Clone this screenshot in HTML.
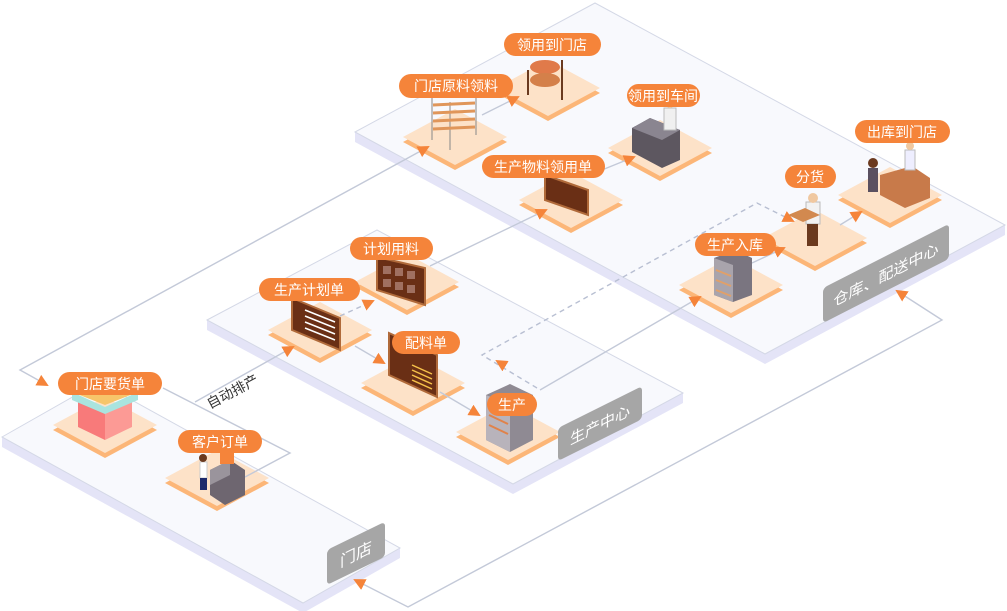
<!DOCTYPE html>
<html><head><meta charset="utf-8"><style>
html,body{margin:0;padding:0;background:#fff;width:1007px;height:611px;overflow:hidden}
svg{display:block;font-family:"Liberation Sans","Noto Sans CJK SC",sans-serif}
.lb{fill:#fff;font-size:14px;text-anchor:middle}
</style></head><body>
<svg width="1007" height="611" viewBox="0 0 1007 611" xmlns="http://www.w3.org/2000/svg">
<defs>
<marker id="a" markerUnits="userSpaceOnUse" markerWidth="12" markerHeight="12" refX="10" refY="6" orient="auto-start-reverse"><path d="M0,0 L12,6 L0,12 z" fill="#f5843a"/></marker>
<g id="pad"><polygon points="-52,5 0,-23 52,5 0,33" fill="#fcb678"/><polygon points="-52,0 0,-28 52,0 0,28" fill="#fde2c8"/></g>
</defs>
<g stroke="#d4d8e6" stroke-width="1">
<polygon points="2,437 2,447 303,613 400,558 400,548 303,603" fill="#e4e4f7" stroke="none"/>
<polygon points="2,437 99,382 400,548 303,603" fill="#f8f9fd"/>
<polygon points="207,320 207,330 513,494 683,403 683,393 513,484" fill="#e4e4f7" stroke="none"/>
<polygon points="207,320 377,230 683,393 513,484" fill="#f8f9fd"/>
<polygon points="355,132 355,142 765,364 1005,235 1005,225 765,354" fill="#e4e4f7" stroke="none"/>
<polygon points="355,132 595,3 1005,225 765,354" fill="#f8f9fd"/>
</g>
<use href="#pad" x="105" y="425"/><use href="#pad" x="217" y="478"/>
<use href="#pad" x="320" y="330"/><use href="#pad" x="407" y="282"/>
<use href="#pad" x="413" y="383"/><use href="#pad" x="508" y="432"/>
<use href="#pad" x="455" y="137"/><use href="#pad" x="548" y="88"/>
<use href="#pad" x="660" y="148"/><use href="#pad" x="571" y="200"/>
<use href="#pad" x="731" y="285"/><use href="#pad" x="815" y="238"/>
<use href="#pad" x="890" y="195"/>
<g fill="none" stroke="#c3c9d8" stroke-width="1.4">
<polyline points="428,147 20,370 47,385" marker-start="url(#a)" marker-end="url(#a)"/>
<polyline points="163,388 290,453 245,477"/>
<line x1="195" y1="402" x2="293" y2="347" marker-end="url(#a)"/>
<line x1="355" y1="346" x2="384" y2="363" marker-end="url(#a)"/>
<line x1="440" y1="392" x2="479" y2="415" marker-end="url(#a)"/>
<line x1="430" y1="266" x2="546" y2="210" marker-end="url(#a)"/>
<line x1="482" y1="115" x2="518" y2="97" marker-end="url(#a)"/>
<line x1="592" y1="174" x2="634" y2="157" marker-end="url(#a)"/>
<line x1="540" y1="390" x2="700" y2="297" marker-end="url(#a)"/>
<line x1="752" y1="263" x2="784" y2="248" marker-end="url(#a)"/>
<line x1="840" y1="225" x2="861" y2="212" marker-end="url(#a)"/>
<polyline points="897,291 942,320 408,607 355,580" marker-start="url(#a)" marker-end="url(#a)"/>
<g stroke-dasharray="5,4" stroke="#b8bfd2">
<polyline points="340,316 373,301" marker-end="url(#a)"/>
<polyline points="537,388 482,355 757,203 793,221" marker-end="url(#a)"/>
<line x1="520" y1="375" x2="497" y2="361" marker-end="url(#a)" stroke="none"/>
</g>
</g>
<text x="0" y="0" font-size="14" fill="#333" transform="translate(210,409) rotate(-28)">自动排产</text>
<polygon points="78,395 105,408 105,440 78,427" fill="#f87a7a"/><polygon points="105,408 132,395 132,427 105,440" fill="#fc9a95"/>
<polygon points="72,392 105,405 138,392 105,380" fill="#f7c56a"/><path d="M72,392 L105,407 L138,392 L138,400 L105,414 L72,400z" fill="#a9e4df"/>
<circle cx="105" cy="388" r="6" fill="#f08585"/>
<polygon points="210,470 230,460 245,470 245,495 225,505 210,495" fill="#6e6670"/><polygon points="210,470 230,460 230,475 210,485" fill="#9a949c"/>
<rect x="220" y="450" width="14" height="14" fill="#f5843a"/>
<rect x="200" y="462" width="7" height="16" fill="#fff" stroke="#ccc"/><rect x="200" y="478" width="7" height="12" fill="#1d2a6b"/><circle cx="203" cy="458" r="4" fill="#6b3a1f"/>
<polygon points="292,298 340,318 340,350 292,330" fill="#6a2f15" stroke="#b06a3a" stroke-width="2"/>
<g stroke="#fff" stroke-width="1.5"><line x1="305" y1="310" x2="335" y2="322"/><line x1="305" y1="316" x2="335" y2="328"/><line x1="305" y1="322" x2="335" y2="334"/><line x1="305" y1="328" x2="335" y2="340"/></g>
<polygon points="377,257 425,268 425,305 377,290" fill="#6a2f15" stroke="#b06a3a" stroke-width="2"/>
<g fill="#a07060"><rect x="383" y="266" width="8" height="8"/><rect x="395" y="268" width="8" height="8"/><rect x="407" y="271" width="8" height="8"/><rect x="383" y="279" width="8" height="8"/><rect x="395" y="282" width="8" height="8"/><rect x="407" y="285" width="8" height="8"/></g>
<polygon points="389,333 437,355 437,397 389,375" fill="#6a2f15" stroke="#b06a3a" stroke-width="2"/>
<g stroke="#f6c24a" stroke-width="1.5"><line x1="412" y1="365" x2="432" y2="374"/><line x1="412" y1="370" x2="432" y2="379"/><line x1="412" y1="375" x2="432" y2="384"/><line x1="412" y1="380" x2="432" y2="389"/></g>
<polygon points="545,175 588,190 588,215 545,200" fill="#6a2f15" stroke="#b06a3a" stroke-width="2"/>
<polygon points="486,395 510,384 533,395 533,440 510,452 486,440" fill="#8f8a93"/><polygon points="486,395 510,405 510,452 486,440" fill="#b8b3bb"/>
<g stroke="#e0824a" stroke-width="2"><line x1="489" y1="415" x2="508" y2="424"/><line x1="489" y1="425" x2="508" y2="434"/></g>
<g stroke="#888" stroke-width="1"><line x1="432" y1="98" x2="432" y2="140"/><line x1="450" y1="102" x2="450" y2="150"/><line x1="476" y1="97" x2="476" y2="135"/></g>
<g stroke="#e0965a" stroke-width="3"><line x1="433" y1="105" x2="475" y2="103"/><line x1="433" y1="113" x2="475" y2="111"/><line x1="433" y1="121" x2="475" y2="119"/><line x1="433" y1="129" x2="475" y2="127"/></g>
<g stroke="#6a3a1f" stroke-width="2"><line x1="528" y1="70" x2="528" y2="95"/><line x1="562" y1="60" x2="562" y2="100"/></g>
<ellipse cx="545" cy="67" rx="15" ry="7" fill="#e07a4a"/><ellipse cx="545" cy="80" rx="15" ry="7" fill="#d4804a"/>
<polygon points="632,128 650,118 680,130 680,160 662,168 632,152" fill="#5d5760"/><polygon points="632,128 650,118 680,130 662,140" fill="#8a8590"/>
<rect x="664" y="108" width="12" height="22" fill="#f0f0f0" stroke="#bbb"/><circle cx="670" cy="104" r="4" fill="#f0c8a0"/>
<polygon points="714,258 735,250 752,258 752,295 733,302 714,295" fill="#7a7580"/><polygon points="714,258 733,265 733,302 714,295" fill="#a9a4ac"/>
<g stroke="#e0a06a" stroke-width="2"><line x1="716" y1="270" x2="731" y2="276"/><line x1="716" y1="280" x2="731" y2="286"/><line x1="716" y1="290" x2="731" y2="296"/></g>
<rect x="806" y="202" width="14" height="22" fill="#f2f2f2" stroke="#bbb"/><rect x="807" y="224" width="11" height="22" fill="#6b3a1f"/><circle cx="813" cy="198" r="5" fill="#f0c8a0"/>
<polygon points="788,215 805,208 820,215 803,222" fill="#d2894f"/>
<polygon points="880,175 912,166 930,178 930,198 905,208 880,195" fill="#c87a4a"/><rect x="868" y="168" width="10" height="24" fill="#5a5060"/><circle cx="873" cy="163" r="5" fill="#6b3a1f"/>
<rect x="905" y="150" width="10" height="20" fill="#eef" stroke="#bbb"/><circle cx="910" cy="146" r="4" fill="#f0c8a0"/>
<g fill="#f5843a">
<rect x="58" y="372" width="104" height="23" rx="11.5"/>
<rect x="178" y="430" width="84" height="23" rx="11.5"/>
<rect x="259" y="278" width="101" height="23" rx="11.5"/>
<rect x="350" y="237" width="83" height="23" rx="11.5"/>
<rect x="392" y="331" width="68" height="23" rx="11.5"/>
<rect x="487" y="393" width="50" height="23" rx="11.5"/>
<rect x="399" y="74" width="114" height="24" rx="12"/>
<rect x="504" y="33" width="97" height="23" rx="11.5"/>
<rect x="627" y="84" width="73" height="23" rx="11.5"/>
<rect x="482" y="155" width="123" height="23" rx="11.5"/>
<rect x="695" y="233" width="81" height="23" rx="11.5"/>
<rect x="785" y="165" width="51" height="23" rx="11.5"/>
<rect x="855" y="120" width="95" height="23" rx="11.5"/>
</g>
<g class="lb">
<text x="110" y="389">门店要货单</text>
<text x="220" y="447">客户订单</text>
<text x="309" y="295">生产计划单</text>
<text x="391" y="254">计划用料</text>
<text x="426" y="348">配料单</text>
<text x="512" y="410">生产</text>
<text x="456" y="91">门店原料领料</text>
<text x="552" y="50">领用到门店</text>
<text x="663" y="101">领用到车间</text>
<text x="543" y="172">生产物料领用单</text>
<text x="735" y="250">生产入库</text>
<text x="810" y="182">分货</text>
<text x="902" y="137">出库到门店</text>
</g>
<g transform="translate(327,550) skewY(-26)"><rect x="0" y="0" width="58" height="35" rx="4" fill="#a6a6a6"/><text x="29" y="24" font-size="16" fill="#fff" text-anchor="middle">门店</text></g>
<g transform="translate(558,428) skewY(-26.5)"><rect x="0" y="0" width="84" height="33" rx="4" fill="#a6a6a6"/><text x="42" y="23" font-size="15" fill="#fff" text-anchor="middle">生产中心</text></g>
<g transform="translate(823,288) skewY(-27)"><rect x="0" y="0" width="126" height="35" rx="4" fill="#a6a6a6"/><text x="63" y="24" font-size="15" fill="#fff" text-anchor="middle">仓库、配送中心</text></g>
</svg>
</body></html>
